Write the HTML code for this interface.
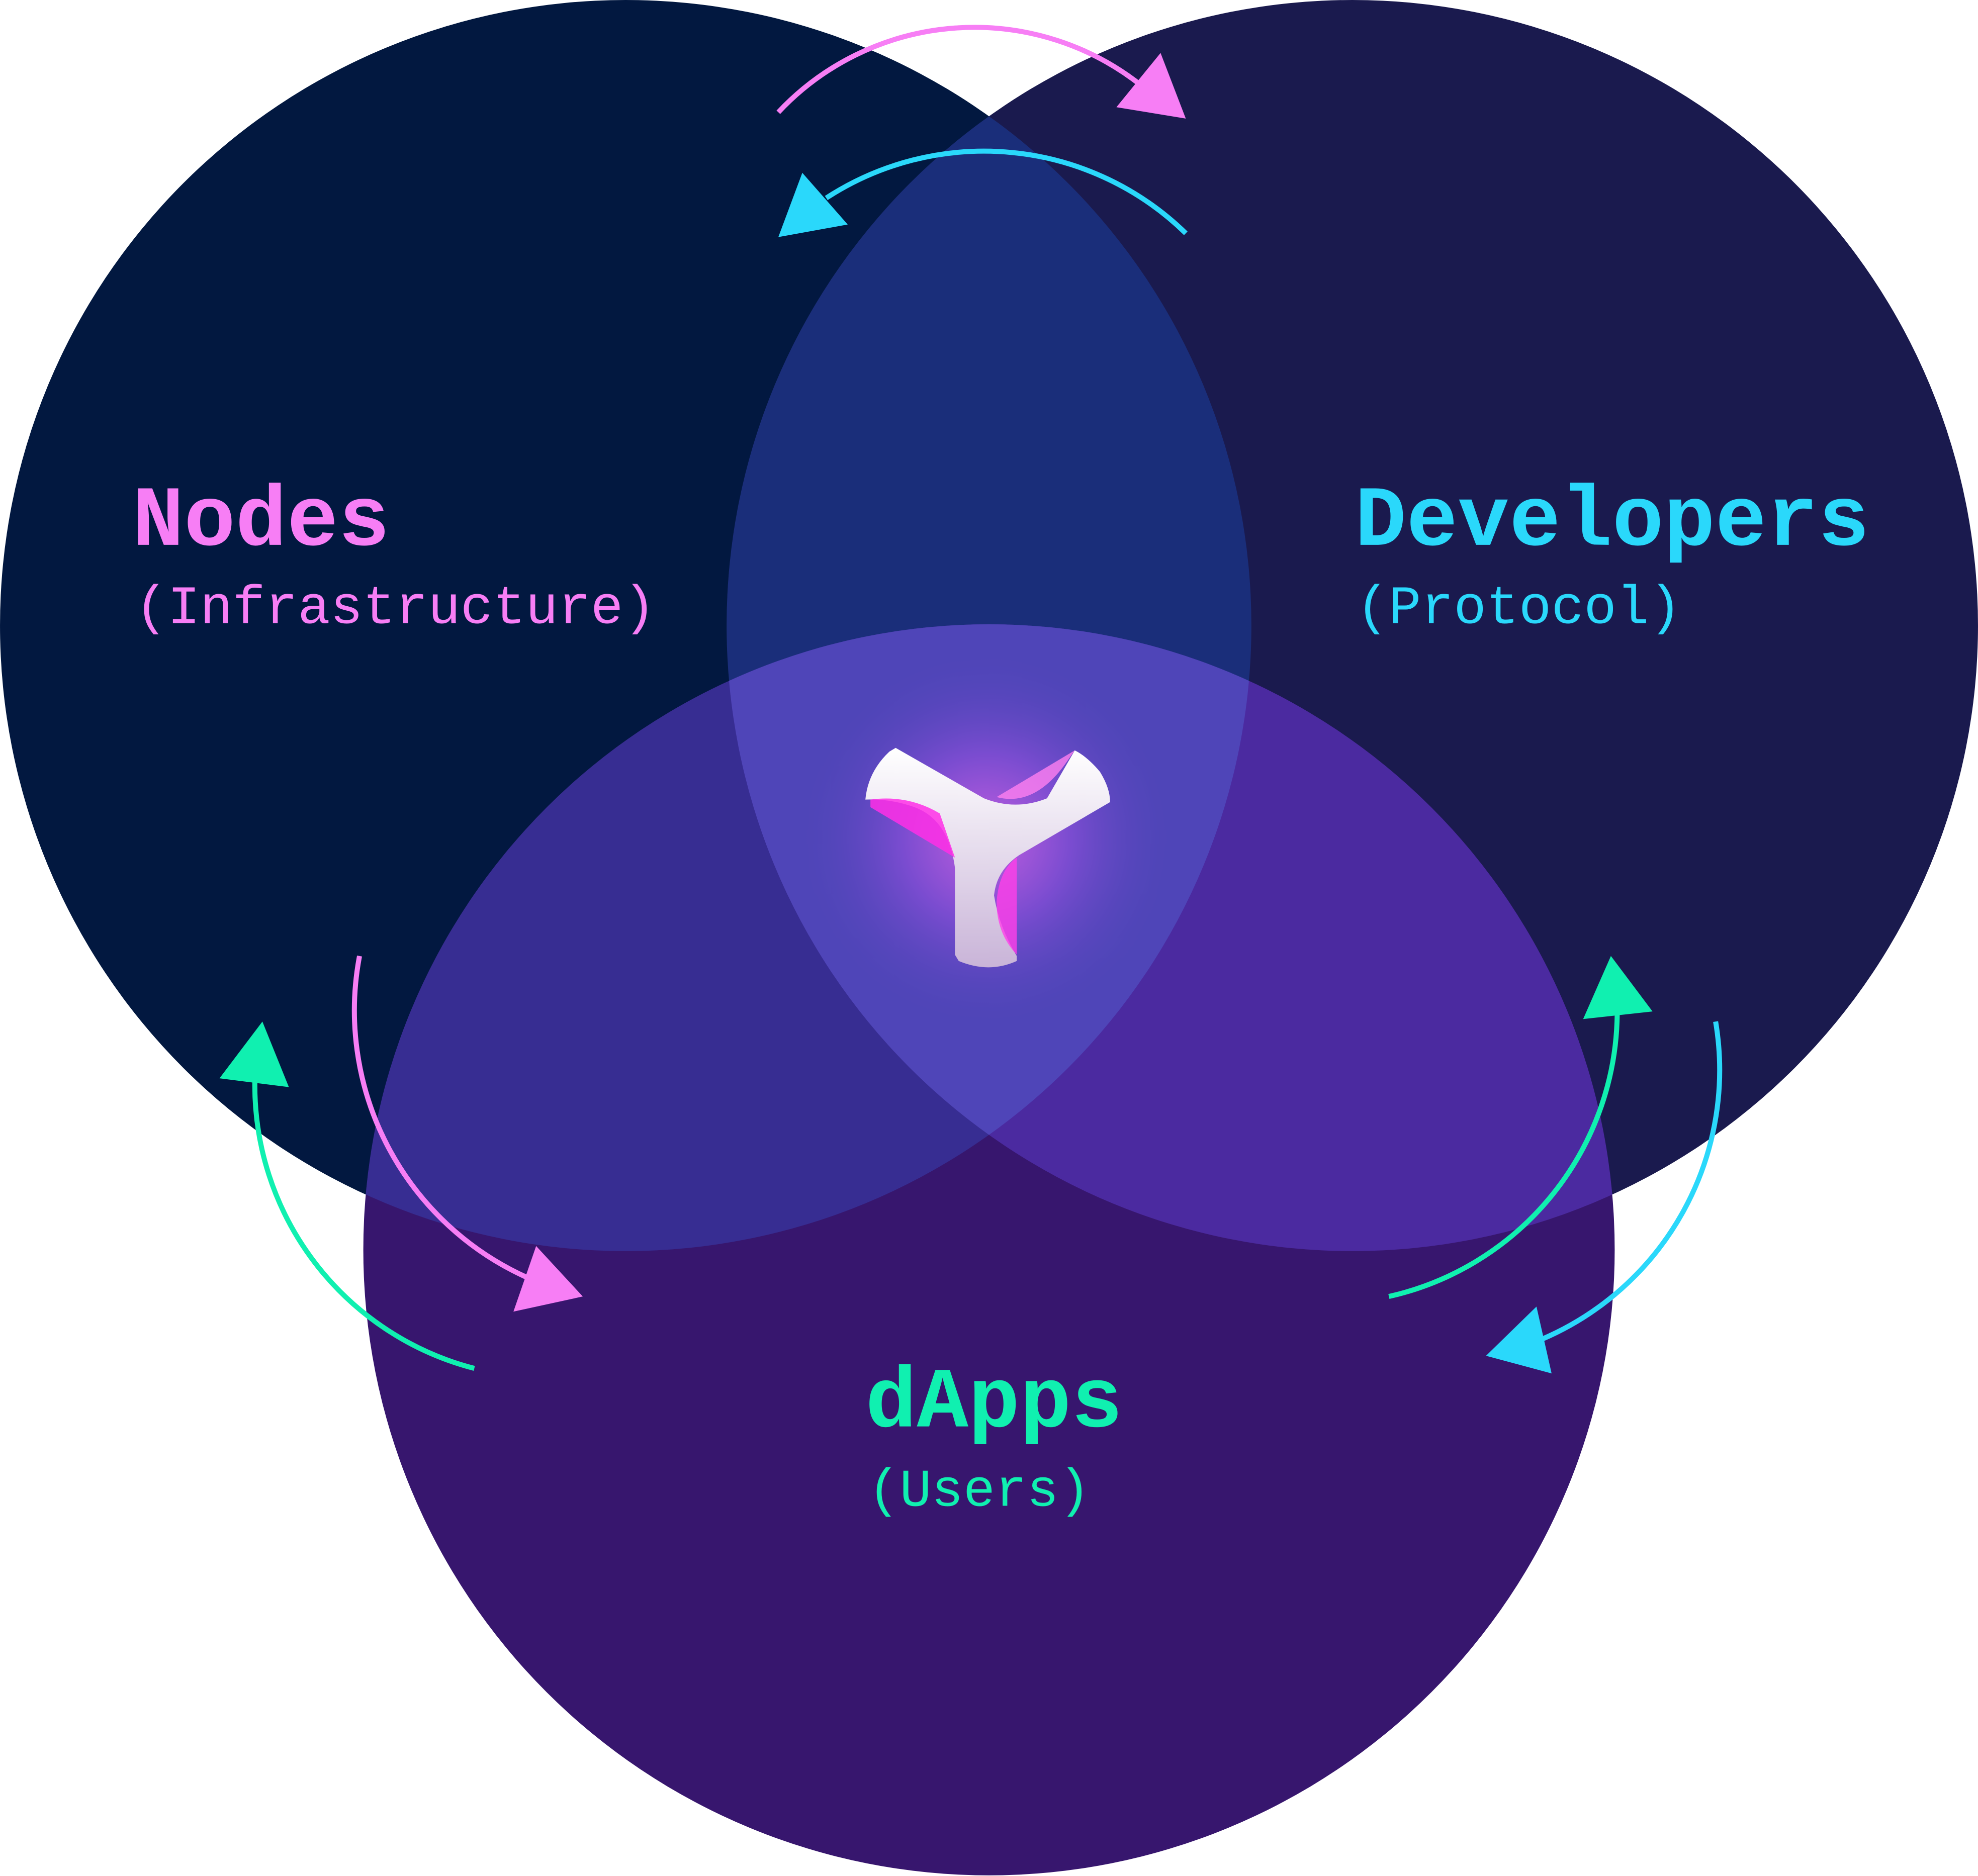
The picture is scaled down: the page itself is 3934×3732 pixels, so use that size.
<!DOCTYPE html>
<html><head><meta charset="utf-8"><style>
html,body{margin:0;padding:0;background:#fff}
svg{display:block}
</style></head><body>
<svg width="3934" height="3732" viewBox="0 0 1568 1487.5" xmlns="http://www.w3.org/2000/svg">
<defs>
<clipPath id="cL"><circle cx="496" cy="496" r="496"/></clipPath>
<clipPath id="cR"><circle cx="1072" cy="496" r="496"/></clipPath>
<clipPath id="cB"><circle cx="784" cy="991" r="496"/></clipPath>
<radialGradient id="glow" cx="782" cy="665" r="150" gradientUnits="userSpaceOnUse">
<stop offset="0" stop-color="#c15ee0"/><stop offset="0.45" stop-color="#7a4cd0"/><stop offset="1" stop-color="#4f45b8" stop-opacity="0"/>
</radialGradient>
<linearGradient id="yg" x1="0" y1="0" x2="0" y2="1">
<stop offset="0" stop-color="#ffffff"/><stop offset="1" stop-color="#c9b4d8"/>
</linearGradient>
</defs>
<circle cx="496" cy="496" r="496" fill="#021840"/>
<circle cx="1072" cy="496" r="496" fill="#1a1a4e"/>
<circle cx="784" cy="991" r="496" fill="#37166e"/>
<g clip-path="url(#cL)"><circle cx="1072" cy="496" r="496" fill="#1a2e7a"/><circle cx="784" cy="991" r="496" fill="#372d92"/></g>
<g clip-path="url(#cR)"><circle cx="784" cy="991" r="496" fill="#4b2aa0"/></g>
<g clip-path="url(#cL)"><g clip-path="url(#cR)"><circle cx="784" cy="991" r="496" fill="#4f45b8"/><circle cx="782" cy="665" r="150" fill="url(#glow)"/></g></g>

<!-- logo -->
<path d="M710 593 L780 633 Q805 643 830 633 L852 595 Q862 600 872 612 Q880 625 880 636 L808 678 Q790 690 788 710 Q792 735 806 758 L806 762 Q784 772 760 762 L757 757 L757 688 Q752 650 725 640 Q705 633 686 634 Q688 612 705 596 Z" fill="url(#yg)"/>
<path d="M690 634 Q720 630 745 645 L757 680 L690 640 Z" fill="#ff2fe6" opacity="0.85"/>
<path d="M790 715 Q790 740 806 757 L806 680 Q792 690 790 715 Z" fill="#ff40e8" opacity="0.8"/>
<path d="M790 632 Q820 640 845 605 L852 595 Z" fill="#ff80f0" opacity="0.8"/>

<!-- arrows -->
<g fill="none" stroke-width="4">
<path d="M617 89 A213 213 0 0 1 905 68" stroke="#f77ef5"/>
<path d="M940 185 A229 229 0 0 0 655 157" stroke="#2ad8fb"/>
<path d="M285 758 A232 232 0 0 0 418 1013" stroke="#f77ef5"/>
<path d="M376 1085 A232 232 0 0 1 202 858" stroke="#10f0b0"/>
<path d="M1101 1028 A232 232 0 0 0 1282 803" stroke="#10f0b0"/>
<path d="M1360 810 A232 232 0 0 1 1222 1062" stroke="#2ad8fb"/>
</g>
<polygon points="885,85 920,42 940,94" fill="#f77ef5"/>
<polygon points="617,188 636,137 672,178" fill="#2ad8fb"/>
<polygon points="407,1040 425,988 462,1028" fill="#f77ef5"/>
<polygon points="174,855 208,810 229,862" fill="#10f0b0"/>
<polygon points="1255,808 1277,758 1310,802" fill="#10f0b0"/>
<polygon points="1178,1075 1218,1036 1230,1089" fill="#2ad8fb"/>

<!-- text -->
<g font-family="'Liberation Mono', monospace">
<text x="105" y="432" font-size="68" font-weight="bold" fill="#f77ef5">Nodes</text>
<text x="107" y="494" font-size="43" fill="#f77ef5">(Infrastructure)</text>
<text x="1074" y="432" font-size="68" font-weight="bold" fill="#2ad8fb">Developers</text>
<text x="1075" y="494" font-size="43" fill="#2ad8fb">(Protocol)</text>
<text x="686" y="1131" font-size="68" font-weight="bold" fill="#10f0b0">dApps</text>
<text x="688" y="1194" font-size="42" fill="#10f0b0">(Users)</text>
</g>
</svg>
</body></html>
